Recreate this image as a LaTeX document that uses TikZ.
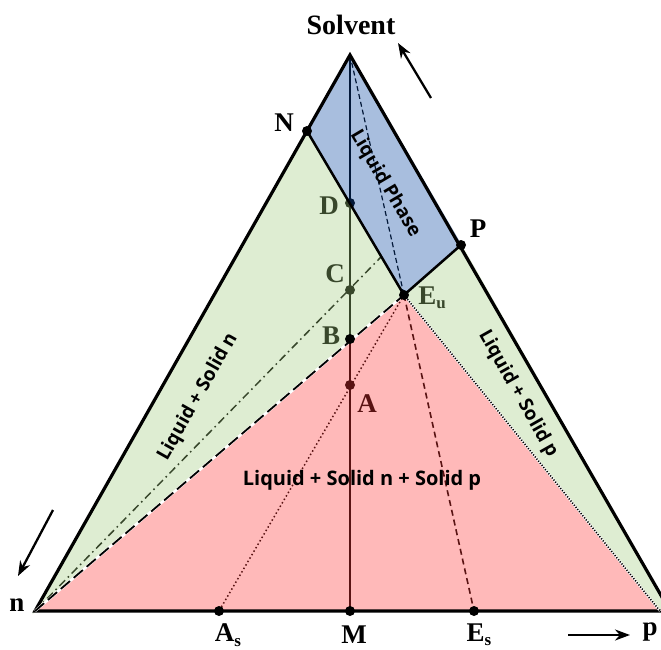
\documentclass[tikz,border=0pt]{standalone}
\usepackage{fontspec}
\setmainfont{Liberation Serif}
\newfontfamily\regfont{Open Sans}
\usetikzlibrary{arrows.meta}
\definecolor{pinkc}{RGB}{255,55,55}
\definecolor{greenc}{RGB}{161,204,126}
\definecolor{bluec}{RGB}{6,69,161}
\begin{document}
\begin{tikzpicture}[x=1pt,y=-1pt,
  lbl/.style={font=\fontsize{27}{27}\selectfont\bfseries, inner sep=0pt},
  reg/.style={font=\regfont\fontsize{19}{19}\selectfont\bfseries, inner sep=0pt},
  dotpt/.style={circle, fill=black, inner sep=0pt, minimum size=10pt},
  arr/.style={-{Stealth[length=15pt,width=11pt]}, line width=2.3pt},
  area/.style={fill opacity=0.35, draw opacity=0.35, line width=1.5pt}]
\useasboundingbox (0,0) rectangle (661,650);
\newcommand{\sbs}[1]{\raisebox{-0.35ex}{\fontsize{17}{17}\selectfont #1}}
% coordinates
\coordinate (S) at (350,55);
\coordinate (n) at (35,611);
\coordinate (pp) at (670,611);
\coordinate (pr) at (660,611);
\coordinate (Nc) at (307,131);
\coordinate (Pc) at (461,245);
\coordinate (Euc) at (404,295);
\coordinate (Dc) at (350,203);
\coordinate (Cc) at (350,290);
\coordinate (Bc) at (350,339);
\coordinate (Ac) at (350,385);
\coordinate (Mc) at (350,611);
\coordinate (Asc) at (219,611);
\coordinate (Esc) at (474,611);
\coordinate (DCend) at (381,257);
\begin{scope}
\clip (0,0) rectangle (661,650);
% lines beneath the tinted areas
\draw[line width=1.7pt] (S) -- (Mc);
\draw[line width=1.2pt, dash pattern=on 5pt off 3pt] (S) -- (Euc);
\draw[line width=1.6pt, dash pattern=on 6pt off 4pt] (Euc) -- (Esc);
\draw[line width=1.5pt, dash pattern=on 1.5pt off 2.5pt] (Euc) -- (Asc);
\draw[line width=1.5pt, dash pattern=on 8pt off 4pt on 1.5pt off 4pt] (n) -- (DCend);
% interior points
\node[dotpt] (D) at (Dc) {};
\node[dotpt] (C) at (Cc) {};
\node[dotpt] (A) at (Ac) {};
% labels beneath tint
\node[lbl] (Dl) at (329,206) {D};
\node[lbl] (Cl) at (335,274) {C};
\node[lbl] (Bl) at (331,336) {B};
\node[lbl] (Al) at (367,404) {A};
\node[lbl] (Eul) at (432,298) {E\sbs{u}};
% tinted areas
\fill[pinkc, area, draw=pinkc] (n) -- (Euc) -- (pr) -- cycle;
\fill[greenc, area, draw=greenc] (n) -- (Nc) -- (Euc) -- cycle;
\fill[greenc, area, draw=greenc] (Euc) -- (Pc) -- (pp) -- (pr) -- cycle;
\fill[bluec, area, draw=bluec] (S) -- (Nc) -- (Euc) -- (Pc) -- cycle;
% outlines
\draw[line width=3.2pt, line join=miter] (pp) -- (n) -- (S) -- (pp);
\draw[line width=2.5pt] (Nc) -- (Euc) -- (Pc);
\draw[white, line width=2.6pt] (n) -- (Euc);
\draw[line width=1.8pt, dash pattern=on 12pt off 5pt] (n) -- (Euc);
\draw[white, line width=2.2pt] (Euc) -- (pr);
\draw[line width=1.6pt, dash pattern=on 1.2pt off 1.5pt] (Euc) -- (pr);
\end{scope}
% points on top
\node[dotpt] (N) at (Nc) {};
\node[dotpt] (P) at (Pc) {};
\node[dotpt] (Eu) at (Euc) {};
\node[dotpt] (B) at (Bc) {};
\node[dotpt] (M) at (Mc) {};
\node[dotpt] (As) at (Asc) {};
\node[dotpt] (Es) at (Esc) {};
% labels
\node[lbl, font=\fontsize{28}{28}\selectfont\bfseries] (Solv) at (351,25) {Solvent};
\node[lbl] (Nl) at (284,123) {N};
\node[lbl] (Pl) at (478,229) {P};
\node[lbl] (Asl) at (228,635) {A\sbs{s}};
\node[lbl] (Ml) at (354,635) {M};
\node[lbl] (Esl) at (479,635) {E\sbs{s}};
\node[lbl] (nl) at (17,605) {n};
\node[lbl] (pl) at (650,632) {p};
% region texts
\node[reg, rotate=-59.4] (lp) at (385,184) {Liquid Phase};
\node[reg, rotate=60.5] (lsn) at (198,397) {Liquid + Solid n};
\node[reg, rotate=-60.5] (lsp) at (518,394) {Liquid + Solid p};
\node[reg, font=\regfont\fontsize{20}{20}\selectfont\bfseries] (lnp) at (362,480) {Liquid + Solid n + Solid p};
% arrows
\coordinate (a1s) at (431,98); \coordinate (a1e) at (398,43);
\coordinate (a2s) at (53,510); \coordinate (a2e) at (18,576);
\coordinate (a3s) at (568,635); \coordinate (a3e) at (630,635);
\draw[arr] (a1s) -- (a1e);
\draw[arr] (a2s) -- (a2e);
\draw[arr] (a3s) -- (a3e);
\end{tikzpicture}
\end{document}
